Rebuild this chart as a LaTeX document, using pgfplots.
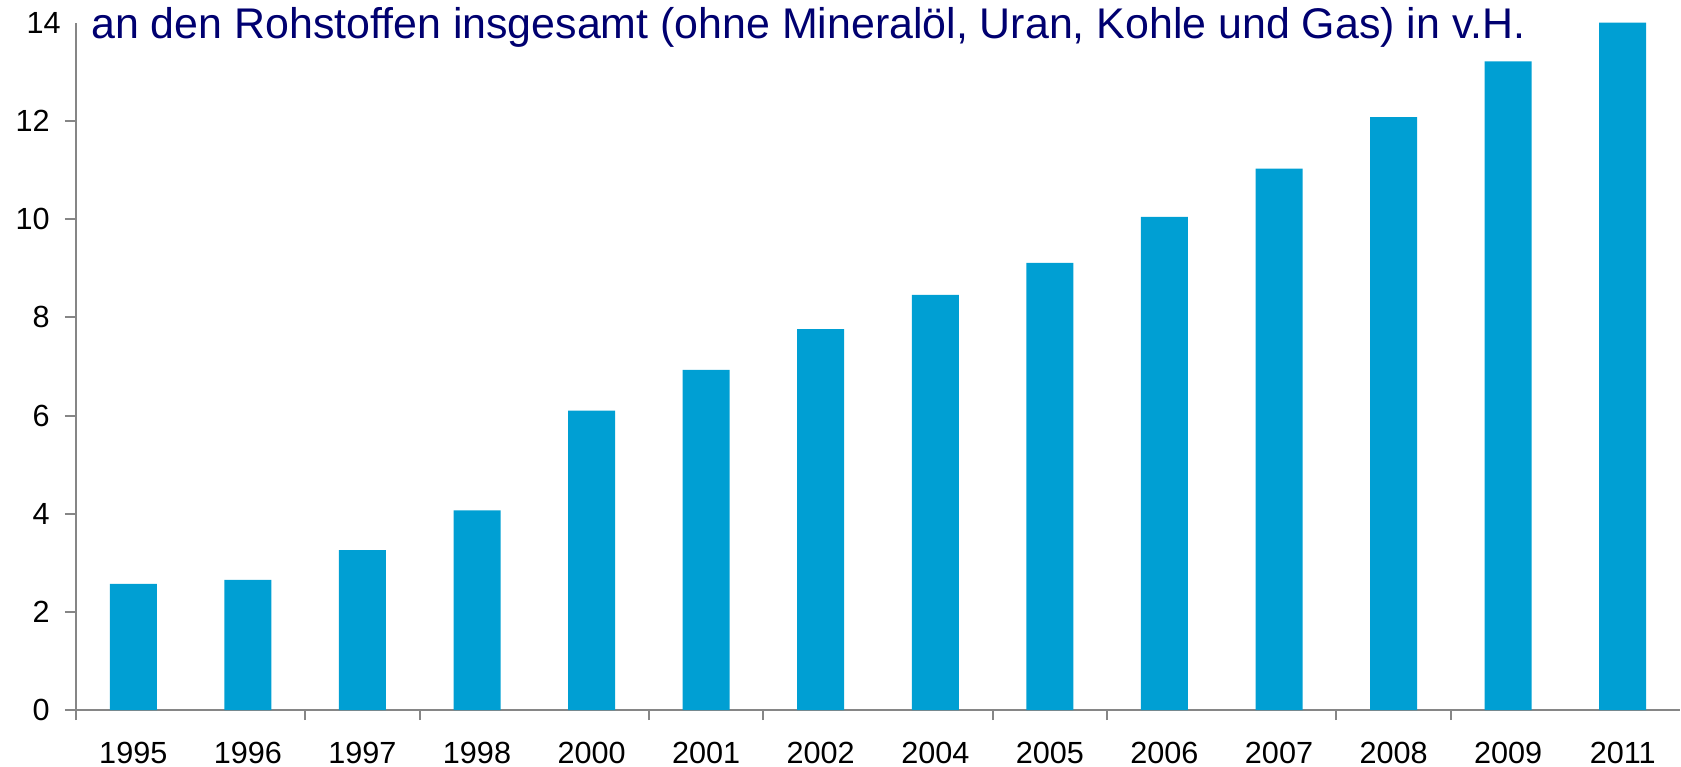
\documentclass[border=0pt]{standalone}
\usepackage{fontspec}
\setmainfont{Liberation Sans}
\usepackage{pgfplots}
\pgfplotsset{compat=1.18}
\definecolor{barblue}{HTML}{009FD3}
\definecolor{axisgray}{HTML}{868686}
\definecolor{titleblue}{HTML}{000070}
\begin{document}
\begin{tikzpicture}
\useasboundingbox (-38bp,-28.5bp) rectangle (802.5bp,355bp);
\begin{axis}[
  at={(0,0)}, anchor=south west,
  scale only axis, width=802bp, height=343.5bp,
  xmin=-0.5, xmax=13.5, ymin=0, ymax=14,
  axis x line*=bottom, axis y line*=left,
  axis line style={axisgray, line width=1.3bp},
  tick align=outside,
  xtick={0,...,13},
  xticklabels={1995,1996,1997,1998,2000,2001,2002,2004,2005,2006,2007,2008,2009,2011},
  minor xtick={-0.5,1.5,2.5,4.5,5.5,7.5,8.5,10.5,11.5},
  major x tick style={draw=none},
  minor x tick style={axisgray, line width=1bp},
  minor tick length=5bp,
  ytick={0,2,...,12},
  extra y ticks={14},
  extra y tick style={major tick length=0pt},
  major y tick style={axisgray, line width=1bp},
  major tick length=5.5bp,
  /pgf/number format/assume math mode=true,
  ticklabel style={font=\fontsize{15.3bp}{17bp}\selectfont, inner sep=0pt},
  yticklabel style={anchor=east, xshift=-7.5bp},
  xticklabel style={anchor=base, yshift=-21bp},
  clip=false,
]
\addplot[ybar, fill=barblue, draw=none, bar width=23.5bp] coordinates {
  (0,2.57) (1,2.65) (2,3.26) (3,4.07) (4,6.10) (5,6.93) (6,7.76)
  (7,8.46) (8,9.11) (9,10.05) (10,11.03) (11,12.08) (12,13.22) (13,14.01)
};
\end{axis}
\node[anchor=base west, text=titleblue, font=\fontsize{21.45bp}{24bp}\selectfont, inner sep=0pt] at (7.5bp,335.5bp) {an den Rohstoffen insgesamt (ohne Mineralöl, Uran, Kohle und Gas) in v.H.};
\end{tikzpicture}
\end{document}
